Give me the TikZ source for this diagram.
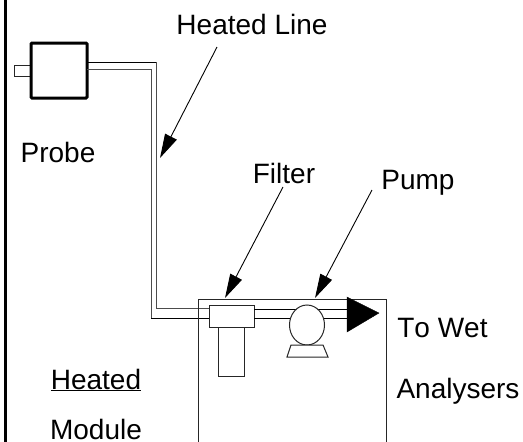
\documentclass[tikz,border=0pt]{standalone}
\usepackage{fontspec}
\setmainfont[Kerning=Off]{Liberation Sans}
\usetikzlibrary{arrows.meta}
\tikzset{
	thinline/.style={line width=1pt, color=black!85},
	pointer/.style={line width=0.9pt, -{Triangle[length=24pt, width=13pt]}},
	lbl/.style={inner sep=0pt, font=\fontsize{28}{30}\selectfont}
}

\begin{document}
\begin{tikzpicture}[x=1pt, y=-1pt]
		%%%%% START %%%%%
		\useasboundingbox (0, 0) rectangle (523, 442);
		
		\draw[line width=3pt] (5, 0) -- (5, 442);
		
		\draw[thinline] (14, 65) rectangle (31, 76);
		\draw[line width=3pt, rounded corners=1pt] (31, 43) rectangle (87, 98);
		
		\draw[line width=1pt] (87, 62) -- (156, 62);
		\draw[line width=1pt, color=black!70] (156, 62) -- (156, 308) -- (209, 308);
		\draw[line width=1pt, color=black!70] (87, 69) -- (151, 69) -- (151, 318);
		\draw[line width=1pt] (151, 318) -- (209, 318);
		
		\draw[thinline] (198, 442) -- (198, 299) -- (386, 299) -- (386, 442);
		
		\draw[thinline] (218, 327) rectangle (244, 376);
		\draw[thinline, fill=white] (209, 305) rectangle (254, 327);
		\draw[line width=1pt] (254, 309) -- (350, 309);
		\draw[line width=1pt] (254, 318) -- (350, 318);
		
		\draw[thinline, fill=white] (307, 325) ellipse (17.5 and 20);
		\draw[thinline, fill=white] (291, 345) -- (323, 345) -- (328, 357) -- (287, 357) -- cycle;
		\draw[fill=black] (347, 297) -- (379, 313) -- (347, 332) -- cycle;
		
		\node[lbl] (heatedline) at (252, 24) {Heated Line};
		\node[lbl] (probe) at (58, 152) {Probe};
		\node[lbl] (filter) at (284, 173) {Filter};
		\node[lbl] (pump) at (418, 183) {Pump};
		\node[lbl] (towet) at (442.5, 328) {To Wet};
		\node[lbl] (analysers) at (458, 391) {Analysers};
		\node[lbl] (heated) at (96, 380) {\underline{Heated}};
		\node[lbl] (module) at (96, 429) {Module};
		
		\coordinate (linetip) at (160, 158);
		\coordinate (filtertip) at (225, 298);
		\coordinate (pumptip) at (315, 298);
		\draw[pointer] (217, 47) -- (linetip);
		\draw[pointer] (283, 187) -- (filtertip);
		\draw[pointer] (372, 190) -- (pumptip);
		
		%%%%% END %%%%%
	\end{tikzpicture}
\end{document}
